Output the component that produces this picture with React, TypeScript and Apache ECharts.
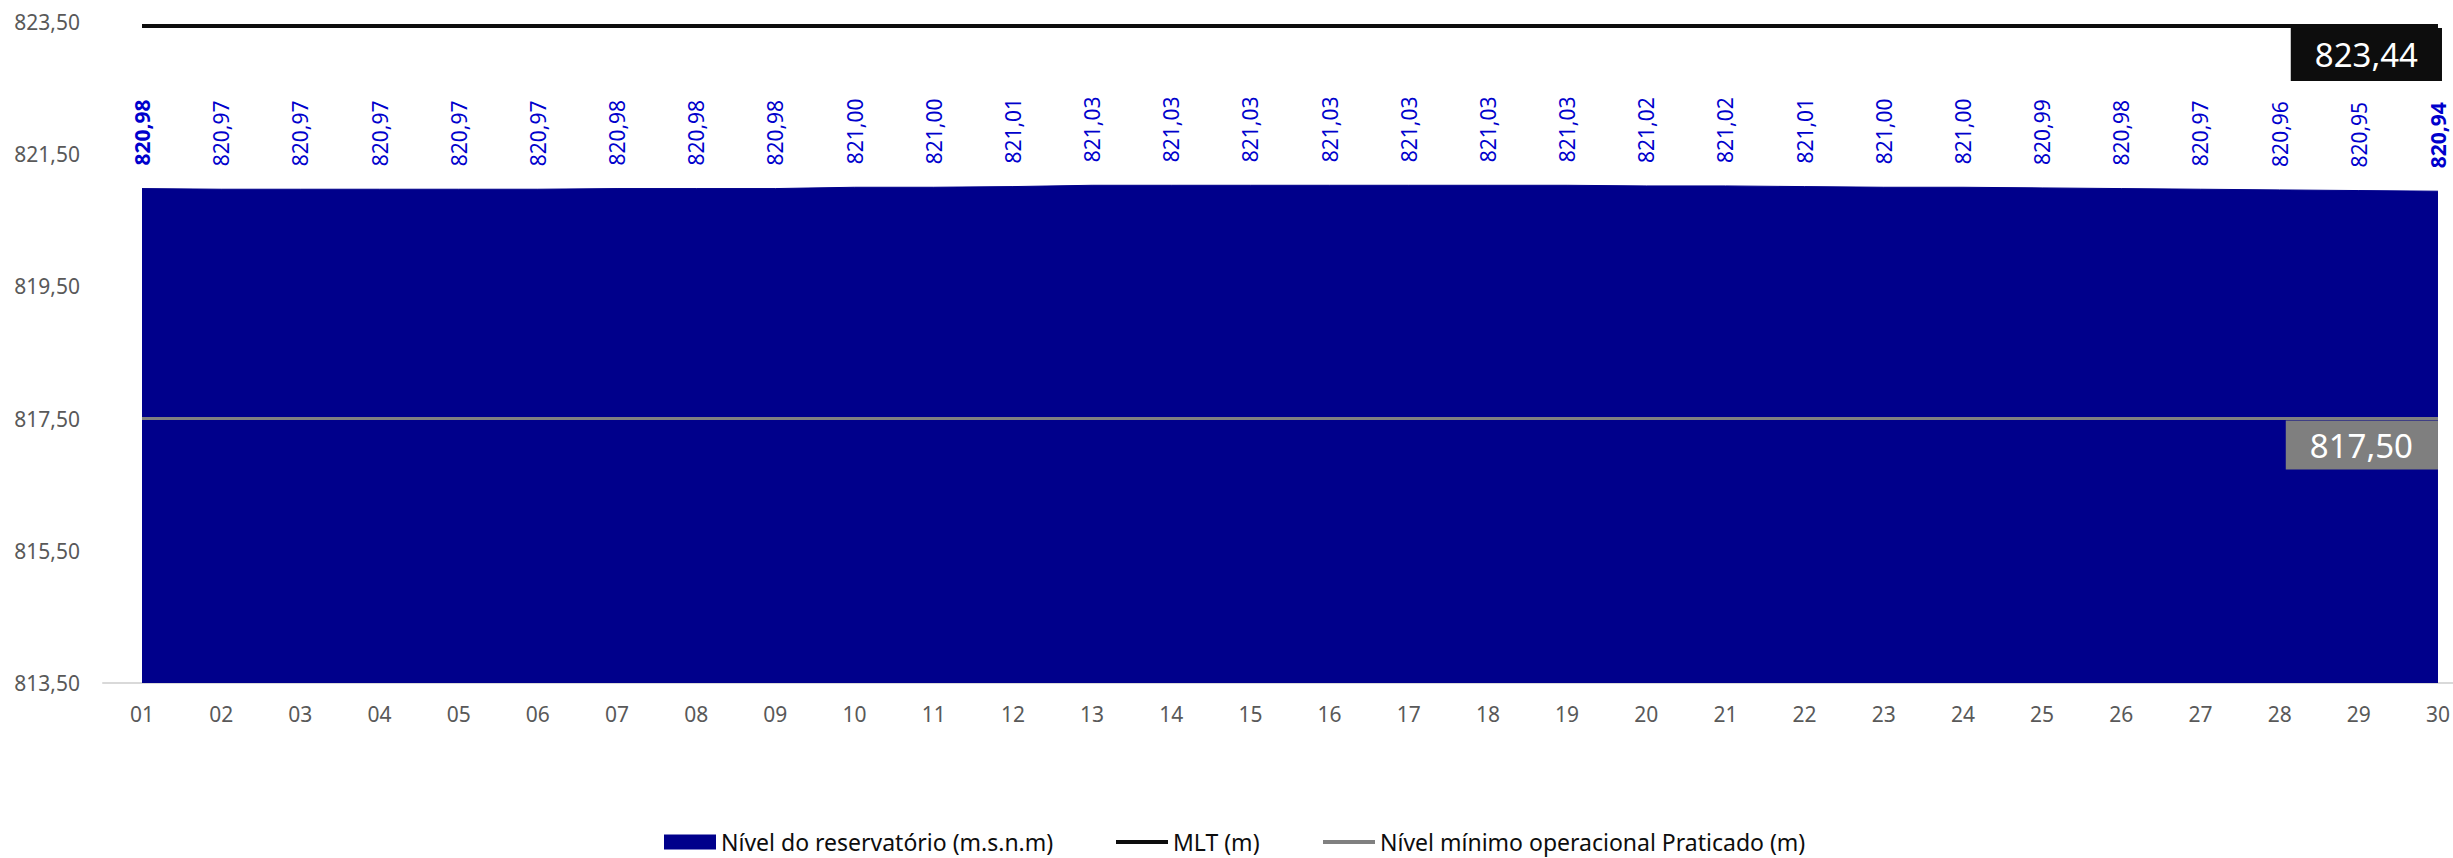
import React, { useEffect, useRef } from "react";
import * as echarts from "echarts";

const days = ["01","02","03","04","05","06","07","08","09","10","11","12","13","14","15","16","17","18","19","20","21","22","23","24","25","26","27","28","29","30"];
const levels = [820.98, 820.97, 820.97, 820.97, 820.97, 820.97, 820.98, 820.98, 820.98, 821.00, 821.00, 821.01, 821.03, 821.03, 821.03, 821.03, 821.03, 821.03, 821.03, 821.02, 821.02, 821.01, 821.00, 821.00, 820.99, 820.98, 820.97, 820.96, 820.95, 820.94];
const mltValue = 823.44;
const minOperationalValue = 817.5;
const yMin = 813.5;
const yMax = 823.5;
const yInterval = 2;

const AREA_NAME = "Nível do reservatório (m.s.n.m)";
const MLT_NAME = "MLT (m)";
const MIN_NAME = "Nível mínimo operacional Praticado (m)";

const FONT = "'Noto Sans', 'Open Sans', sans-serif";
const fmt = (v: number) => v.toFixed(2).replace(".", ",");

export default function App() {
  const ref = useRef<HTMLDivElement>(null);
  useEffect(() => {
    document.body.style.margin = "0";
    if (!ref.current) return;
    const chart = echarts.init(ref.current, undefined, { renderer: "svg" });
    const last = levels.length - 1;

    const areaData = levels.map((v, i) => ({
      value: v,
      label: { fontWeight: i === 0 || i === last ? "bold" : "normal" },
    }));
    const mltData = days.map((_, i) =>
      i === last
        ? {
            value: mltValue,
            label: {
              show: true,
              position: [4, 2],
              align: "right",
              verticalAlign: "top",
              backgroundColor: "#0D0D0D",
              color: "#FFFFFF",
              fontSize: 33,
              lineHeight: 35,
              padding: [9, 24, 9, 24],
              formatter: (p: any) => fmt(p.value),
            },
          }
        : mltValue
    );
    const minData = days.map((_, i) =>
      i === last
        ? {
            value: minOperationalValue,
            label: {
              show: true,
              position: [0, 2],
              align: "right",
              verticalAlign: "top",
              backgroundColor: "#7F7F7F",
              color: "#FFFFFF",
              fontSize: 33,
              lineHeight: 35,
              padding: [7, 25, 7, 24],
              formatter: (p: any) => fmt(p.value),
            },
          }
        : minOperationalValue
    );

    const legendCommon = {
      top: 830,
      padding: 0,
      itemWidth: 52,
      icon: "rect",
      itemStyle: { borderWidth: 0 },
      textStyle: { fontSize: 23, lineHeight: 24, color: "#0D0D0D", fontFamily: FONT },
      selectedMode: false,
    };

    chart.setOption({
      animation: false,
      textStyle: { fontFamily: FONT },
      grid: [
        { left: 142, right: 15, top: 22, height: 661 },
        { left: 103, right: 0, top: 22, height: 661 },
      ],
      legend: [
        { ...legendCommon, left: 664, itemHeight: 15, data: [AREA_NAME] },
        { ...legendCommon, left: 1116, itemHeight: 4, data: [MLT_NAME] },
        { ...legendCommon, left: 1323, itemHeight: 4, data: [MIN_NAME] },
      ],
      xAxis: [
        {
          type: "category",
          gridIndex: 0,
          data: days,
          boundaryGap: false,
          axisLine: { show: false },
          axisTick: { show: false },
          splitLine: { show: false },
          axisLabel: { color: "#595959", fontSize: 21, margin: 20 },
        },
        {
          type: "value",
          gridIndex: 1,
          min: 0,
          max: 1,
          axisLine: { show: true, lineStyle: { color: "#D9D9D9", width: 2 } },
          axisTick: { show: false },
          axisLabel: { show: false },
          splitLine: { show: false },
          z: 0,
        },
      ],
      yAxis: [
        {
          type: "value",
          gridIndex: 0,
          min: yMin,
          max: yMax,
          interval: yInterval,
          axisLine: { show: false },
          axisTick: { show: false },
          splitLine: { show: false },
          axisLabel: { color: "#595959", fontSize: 21, margin: 62, formatter: (v: number) => fmt(v) },
        },
        { type: "value", gridIndex: 1, show: false, min: 0, max: 1 },
      ],
      series: [
        {
          name: AREA_NAME,
          type: "line",
          xAxisIndex: 0,
          yAxisIndex: 0,
          data: areaData,
          color: "#00008B",
          symbol: "circle",
          symbolSize: 0,
          showAllSymbol: true,
          lineStyle: { color: "#00008B", width: 1 },
          areaStyle: { color: "#00008B", opacity: 1, origin: "start" },
          label: {
            show: true,
            position: "top",
            distance: 23,
            rotate: 90,
            align: "left",
            verticalAlign: "middle",
            color: "#0000CC",
            fontSize: 21,
            formatter: (p: any) => fmt(p.value),
          },
          z: 2,
        },
        {
          name: MLT_NAME,
          type: "line",
          xAxisIndex: 0,
          yAxisIndex: 0,
          data: mltData,
          color: "#0D0D0D",
          symbol: "circle",
          symbolSize: 0,
          showAllSymbol: true,
          lineStyle: { color: "#0D0D0D", width: 4 },
          z: 3,
        },
        {
          name: MIN_NAME,
          type: "line",
          xAxisIndex: 0,
          yAxisIndex: 0,
          data: minData,
          color: "#808080",
          symbol: "circle",
          symbolSize: 0,
          showAllSymbol: true,
          lineStyle: { color: "#808080", width: 3 },
          z: 3,
        },
      ],
    });
    return () => chart.dispose();
  }, []);
  return <div ref={ref} style={{ width: 2453, height: 858 }} />;
}
